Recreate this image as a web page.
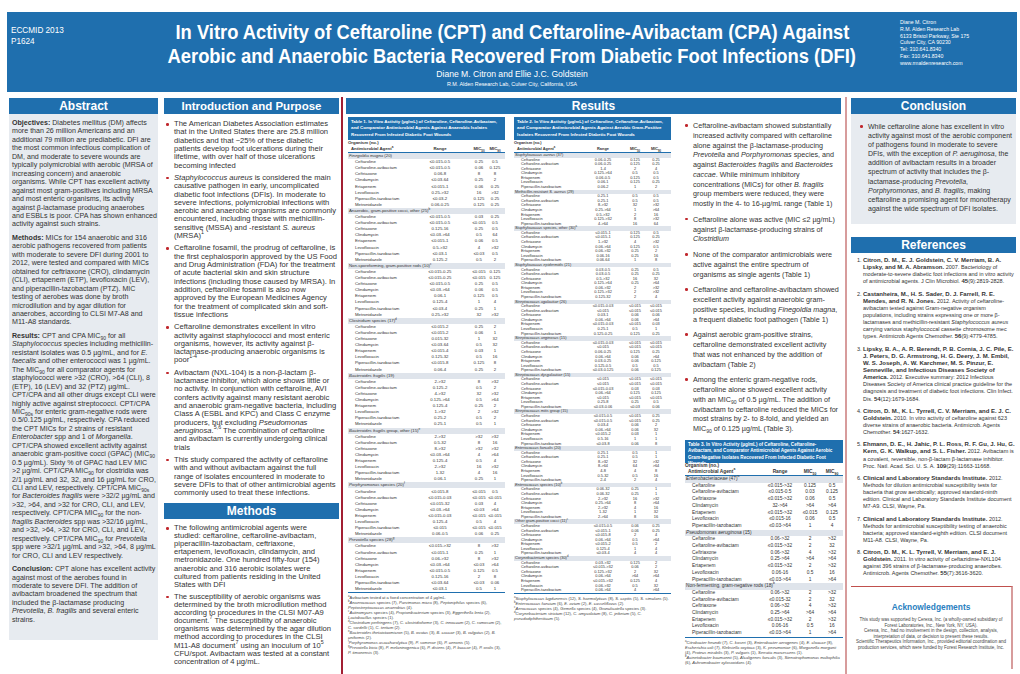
<!DOCTYPE html>
<html>
<head>
<meta charset="utf-8">
<script src="https://cdn.jsdelivr.net/npm/chart.js"></script>
<style>
  body { margin: 0; width: 1020px; height: 674px; background: #fff; position: relative; overflow: hidden;
         font-family: "Liberation Sans", Arial, sans-serif; color: #333; }
  .abs { position: absolute; }
  .band { left: 7px; top: 12px; width: 1010px; height: 80px; background: #1f6fae; color: #fff; }
  .hbar { background: #1f6fae; color: #fff; font-weight: bold; text-align: center; height: 16px; line-height: 16px; font-size: 12px; }
  .txt p { margin: 0 0 5px 0; }
  .bul { position: relative; padding-left: 9px; margin: 0 0 4px 0; }
  .bul::before { content: ""; position: absolute; left: 1px; top: 3px; width: 2.6px; height: 2.6px; background: #c0272d; border-radius: 50%; }
  .tbl { color: #333; }
  .tbl .ttl { background: #1f6fae; color: #fff; font-weight: bold; padding: 2px 3px; box-sizing: border-box; }
  .tbl .row { position: absolute; left: 0; right: 0; white-space: nowrap; }
  .tbl .grp { background: #dfe4eb; }
  .tbl .c { position: absolute; top: 0; text-align: center; }
  .notes { color: #444; }
  .refs li { margin-bottom: 5px; }
  .refs b { font-size: 6px; }
  sub, sup { font-size: 70%; line-height: 0; }
</style>
</head>
<body>

<div class="abs band">
  <div class="abs" style="left:4px;top:13px;font-size:8.2px;line-height:11px">ECCMID 2013<br>P1624</div>
  <div class="abs" style="left:0;width:1010px;top:8px;text-align:center;font-weight:bold;font-size:20px;line-height:24px">
    <span class="fit" data-w="674" style="display:inline-block;white-space:nowrap">In Vitro Activity of Ceftaroline (CPT) and Ceftaroline-Avibactam (CPA) Against</span><br>
    <span class="fit" data-w="688" style="display:inline-block;white-space:nowrap">Aerobic and Anaerobic Bacteria Recovered From Diabetic Foot Infections (DFI)</span>
  </div>
  <div class="abs" style="left:0;width:1010px;top:57px;text-align:center;font-size:8.6px">Diane M. Citron and Ellie J.C. Goldstein</div>
  <div class="abs" style="left:0;width:1010px;top:69px;text-align:center;font-size:5.4px">R.M. Alden Research Lab, Culver City, California, USA</div>
  <div class="abs" style="left:893px;top:7px;font-size:5.2px;line-height:6.8px">Diane M. Citron<br>R.M. Alden Research Lab<br>6133 Bristol Parkway, Ste 175<br>Culver City, CA 90230<br>Tel: 310.641.8340<br>Fax: 310.641.8340<br>www.rmaldenresearch.com</div>
</div>

<!-- Abstract -->
<div class="abs hbar" style="left:9px;top:98px;width:149px">Abstract</div>
<div class="abs" style="left:9px;top:114px;width:149px;height:526px;background:#e7ebf0"></div>
<div id="abstract" class="abs txt" style="left:12px;top:119px;width:145px;font-size:7.1px;line-height:8.6px">
  <p><b>Objectives:</b> Diabetes mellitus (DM) affects more than 26 million Americans and an additional 79 million are prediabetic. DFI are the most common infectious complication of DM, and moderate to severe wounds are typically polymicrobial with aerobic (MRSA of increasing concern) and anaerobic organisms. While CPT has excellent activity against most gram-positives including MRSA and most enteric organisms, its activity against β-lactamase producing anaerobes and ESBLs is poor. CPA has shown enhanced activity against such strains.</p>
  <p><b>Methods:</b> MICs for 154 anaerobic and 316 aerobic pathogens recovered from patients with moderate to severe DFI during 2001 to 2012, were tested and compared with MICs obtained for ceftriaxone (CRO), clindamycin (CLI), ertapenem (ETP), levofloxacin (LEV), and piperacillin-tazobactam (PTZ). MIC testing of aerobes was done by broth microdilution and by agar dilution for anaerobes, according to CLSI M7-A8 and M11-A8 standards.</p>
  <p><b>Results:</b> CPT and CPA MIC<sub>90</sub> for all <i>Staphylococcus</i> species including methicillin-resistant isolates was 0.5 µg/mL, and for <i>E. faecalis</i> and other enterococci was 1 µg/mL. The MIC<sub>90</sub> for all comparator agents for staphylococci were &gt;32 (CRO), &gt;64 (CLI), 8 (ETP), 16 (LEV) and 32 (PTZ) µg/mL. CPT/CPA and all other drugs except CLI were highly active against streptococci. CPT/CPA MIC<sub>90s</sub> for enteric gram-negative rods were 0.5/0.125 µg/mL, respectively. CPA reduced the CPT MICs for 2 strains of resistant <i>Enterobacter</i> spp and 1 of <i>Morganella</i>. CPT/CPA showed excellent activity against anaerobic gram-positive cocci (GPAC) (MIC<sub>90</sub> 0.5 µg/mL). Sixty % of GPAC had LEV MIC &gt;2 µg/ml. CPT/CPA MIC<sub>90</sub> for clostridia was 2/1 µg/mL and 32, 32, and 16 µg/mL for CRO, CLI and LEV, respectively. CPT/CPA MIC<sub>90s</sub> for <i>Bacteroides fragilis</i> were &gt;32/2 µg/mL and &gt;32, &gt;64, and &gt;32 for CRO, CLI, and LEV, respectively. CPT/CPA MIC<sub>90</sub> for the non-<i>fragilis Bacteroides</i> spp was &gt;32/16 µg/mL, and &gt;32, &gt;64, &gt;32 for CRO, CLI, and LEV, respectively. CPT/CPA MIC<sub>90</sub> for <i>Prevotella</i> spp were &gt;32/1 µg/mL and &gt;32, &gt;64, 8 µg/mL for CRO, CLI and LEV respectively.</p>
  <p style="margin:0"><b>Conclusion:</b> CPT alone has excellent activity against most of the aerobes found in moderate to severe DFI. The addition of avibactam broadened the spectrum that included the β-lactamase producing <i>Prevotella</i>, <i>B. fragilis</i> and several enteric strains.</p>
</div>

<!-- Introduction and Methods -->
<div class="abs hbar" style="left:164px;top:98px;width:175px;font-size:11.5px">Introduction and Purpose</div>
<div id="intro" class="abs txt" style="left:165px;top:120px;width:172px;font-size:7.6px;line-height:8.5px">
  <div class="bul">The American Diabetes Association estimates that in the United States there are 25.8 million diabetics and that ~25% of these diabetic patients develop foot ulcerations during their lifetime, with over half of those ulcerations becoming infected</div>
  <div class="bul"><i>Staphylococcus aureus</i> is considered the main causative pathogen in early, uncomplicated diabetic foot infections (DFIs). In moderate to severe infections, polymicrobial infections with aerobic and anaerobic organisms are commonly encountered, including those with methicillin-sensitive (MSSA) and -resistant <i>S. aureus</i> (MRSA)<sup>1</sup></div>
  <div class="bul">Ceftaroline fosamil, the prodrug of ceftaroline, is the first cephalosporin approved by the US Food and Drug Administration (FDA) for the treatment of acute bacterial skin and skin structure infections (including those caused by MRSA). In addition, ceftaroline fosamil is also now approved by the European Medicines Agency for the treatment of complicated skin and soft-tissue infections</div>
  <div class="bul">Ceftaroline demonstrates excellent in vitro activity against staphylococci and most enteric organisms, however, its activity against β-lactamase-producing anaerobic organisms is poor<sup>1-4</sup></div>
  <div class="bul">Avibactam (NXL-104) is a non-β-lactam β-lactamase inhibitor, which alone shows little or no activity. In conjunction with ceftaroline, AVI confers activity against many resistant aerobic and anaerobic gram-negative bacteria, including Class A (ESBL and KPC) and Class C enzyme producers, but excluding <i>Pseudomonas aeruginosa</i>.<sup>5,6</sup> The combination of ceftaroline and avibactam is currently undergoing clinical trials</div>
  <div class="bul" style="margin:0">This study compared the activity of ceftaroline with and without avibactam against the full range of isolates encountered in moderate to severe DFIs to that of other antimicrobial agents commonly used to treat these infections.</div>
</div>
<div id="methHead" class="abs hbar" style="left:164px;top:503px;width:175px">Methods</div>
<div id="methods" class="abs txt" style="left:165px;top:524px;width:170px;font-size:7.6px;line-height:8.5px">
  <div class="bul">The following antimicrobial agents were studied: ceftaroline, ceftaroline-avibactam, piperacillin-tazobactam, ceftriaxone, ertapenem, levofloxacin, clindamycin, and metronidazole. One hundred fifty-four (154) anaerobic and 316 aerobic isolates were cultured from patients residing in the United States with DFI</div>
  <div class="bul" style="margin:0">The susceptibility of aerobic organisms was determined by the broth microdilution method according to procedures in the CLSI M07-A9 document.<sup>7</sup> The susceptibility of anaerobic organisms was determined by the agar dilution method according to procedures in the CLSI M11-A8 document<sup>7</sup> using an inoculum of 10<sup>5</sup> CFU/spot. Avibactam was tested at a constant concentration of 4 µg/mL.</div>
</div>

<div class="abs" style="left:341px;top:97px;width:1.6px;height:577px;background:#a21f33"></div>
<div class="abs" style="left:845px;top:97px;width:2px;height:577px;background:#d79c9c"></div>

<!-- Results -->
<div class="abs hbar" style="left:346px;top:98px;width:495px">Results</div>
<div id="t1" class="abs tbl" style="left:348px;top:117px;width:157px"></div>
<div id="t2" class="abs tbl" style="left:514px;top:117px;width:157px"></div>
<div id="t3" class="abs tbl" style="left:685px;top:440px;width:158px"></div>

<div id="results" class="abs txt" style="left:684px;top:121px;width:156px;font-size:7.2px;line-height:9.4px">
  <div class="bul" style="margin-bottom:6px">Ceftaroline-avibactam showed substantially increased activity compared with ceftaroline alone against the β-lactamase-producing <i>Prevotella</i> and <i>Porphyromonas</i> species, and against <i>Bacteroides fragilis</i> and <i>Bacteroides caccae</i>. While minimum inhibitory concentrations (MICs) for other <i>B. fragilis</i> group members were reduced, they were mostly in the 4- to 16-µg/mL range (Table 1)</div>
  <div class="bul" style="margin-bottom:6px">Ceftaroline alone was active (MIC ≤2 µg/mL) against β-lactamase-producing strains of <i>Clostridium</i></div>
  <div class="bul" style="margin-bottom:6px">None of the comparator antimicrobials were active against the entire spectrum of organisms as single agents (Table 1)</div>
  <div class="bul" style="margin-bottom:6px">Ceftaroline and ceftaroline-avibactam showed excellent activity against anaerobic gram-positive species, including <i>Finegoldia magna</i>, a frequent diabetic foot pathogen (Table 1)</div>
  <div class="bul" style="margin-bottom:6px">Against aerobic gram-positive strains, ceftaroline demonstrated excellent activity that was not enhanced by the addition of avibactam (Table 2)</div>
  <div class="bul" style="margin:0">Among the enteric gram-negative rods, ceftaroline alone showed excellent activity with an MIC<sub>90</sub> of 0.5 µg/mL. The addition of avibactam to ceftaroline reduced the MICs for most strains by 2- to 8-fold, and yielded an MIC<sub>90</sub> of 0.125 µg/mL (Table 3).</div>
</div>

<!-- Conclusion -->
<div class="abs hbar" style="left:851px;top:98px;width:165px">Conclusion</div>
<div class="abs" style="left:851px;top:114px;width:165px;height:110px;background:#e7ebf0"></div>
<div id="concl" class="abs txt" style="left:859px;top:122px;width:155px;font-size:7px;line-height:8.8px">
  <div class="bul" style="margin:0">While ceftaroline alone has excellent in vitro activity against most of the aerobic component of pathogens found in moderate to severe DFIs, with the exception of <i>P. aeruginosa</i>, the addition of avibactam results in a broader spectrum of activity that includes the β-lactamase-producing <i>Prevotella</i>, <i>Porphyromonas</i>, and <i>B. fragilis</i>, making ceftaroline a promising agent for monotherapy against the wide spectrum of DFI isolates.</div>
</div>

<div class="abs hbar" style="left:851px;top:237px;width:165px">References</div>
<ol id="refs" class="abs refs" style="left:851px;top:257px;width:164px;margin:0;padding:0 0 0 12px;font-size:5.5px;line-height:7.2px;box-sizing:border-box">
  <li><b>Citron, D. M., E. J. Goldstein, C. V. Merriam, B. A. Lipsky, and M. A. Abramson.</b> 2007. Bacteriology of moderate-to-severe diabetic foot infections and in vitro activity of antimicrobial agents. J Clin Microbiol. <b>45</b>(9):2819-2828.</li>
  <li><b>Castanheira, M., H. S. Sader, D. J. Farrell, R. E. Mendes, and R. N. Jones.</b> 2012. Activity of ceftaroline-avibactam tested against Gram-negative organism populations, including strains expressing one or more β-lactamases and methicillin-resistant <i>Staphylococcus aureus</i> carrying various staphylococcal cassette chromosome mec types. Antimicrob Agents Chemother. <b>56</b>(9):4779-4785.</li>
  <li><b>Lipsky, B. A., A. R. Berendt, P. B. Cornia, J. C. Pile, E. J. Peters, D. G. Armstrong, H. G. Deery, J. M. Embil, W. S. Joseph, A. W. Karchmer, M. S. Pinzur, E. Senneville, and Infectious Diseases Society of America.</b> 2012. Executive summary: 2012 Infectious Diseases Society of America clinical practice guideline for the diagnosis and treatment of diabetic foot infections. Clin Infect. Dis. <b>54</b>(12):1679-1684.</li>
  <li><b>Citron, D. M., K. L. Tyrrell, C. V. Merriam, and E. J. C. Goldstein.</b> 2010. In vitro activity of ceftaroline against 623 diverse strains of anaerobic bacteria. Antimicrob. Agents Chemother. <b>54</b>:1627-1632.</li>
  <li><b>Ehmann, D. E., H. Jahic, P. L. Ross, R. F. Gu, J. Hu, G. Kern, G. K. Walkup, and S. L. Fisher.</b> 2012. Avibactam is a covalent, reversible, non-β-lactam β-lactamase inhibitor. Proc. Natl. Acad. Sci. U. S. A. <b>109</b>(29):11663-11668.</li>
  <li><b>Clinical and Laboratory Standards Institute.</b> 2012. Methods for dilution antimicrobial susceptibility tests for bacteria that grow aerobically; approved standard-ninth edition. Clinical and Laboratory Standards Institute document M7-A9. CLSI, Wayne, Pa.</li>
  <li><b>Clinical and Laboratory Standards Institute.</b> 2012. Methods for antimicrobial susceptibility testing of anaerobic bacteria; approved standard-eighth edition. CLSI document M11-A8. CLSI, Wayne, Pa.</li>
  <li style="margin:0"><b>Citron, D. M., K. L. Tyrrell, V. Merriam, and E. J. Goldstein.</b> 2011. In vitro activity of ceftazidime-NXL104 against 396 strains of β-lactamase-producing anaerobes. Antimicrob. Agents Chemother. <b>55</b>(7):3616-3620.</li>
</ol>

<div class="abs" style="left:851px;top:586px;width:160px;height:82px;border-top:1.5px solid #c0504d;border-right:2px solid #d79c9c;text-align:center;color:#444">
  <div style="color:#2a7fc0;font-weight:bold;font-size:8.4px;margin-top:15px">Acknowledgements</div>
  <div style="font-size:4.5px;line-height:5.6px;margin:5px 4px 0">This study was supported by Cerexa, Inc. (a wholly-owned subsidiary of Forest Laboratories, Inc., New York, NY, USA).<br>Cerexa, Inc., had no involvement in the design, collection, analysis, interpretation of data, or decision to present these results.<br>Scientific Therapeutics Information, Inc., provided editorial coordination and production services, which were funded by Forest Research Institute, Inc.</div>
</div>

<script>
// drugs
const anaerobeDrugs = ['Ceftaroline', 'Ceftaroline-avibactam', 'Ceftriaxone', 'Clindamycin', 'Ertapenem', 'Levofloxacin', 'Piperacillin-tazobactam', 'Metronidazole'];
const aerobeDrugs = ['Ceftaroline', 'Ceftaroline-avibactam', 'Ceftriaxone', 'Clindamycin', 'Ertapenem', 'Levofloxacin', 'Piperacillin-tazobactam'];

// Table 1 - anaerobes
const t1Groups = ['<i>Finegoldia magna</i> (20)', 'Anaerobic, gram-positive cocci, other (25)<sup>b</sup>', 'Non-sporeforming, gram-positive rods (10)<sup>c</sup>',
  '<i>Clostridium</i> species (17)<sup>d</sup>', '<i>Bacteroides fragilis</i> (19)', '<i>Bacteroides fragilis</i> group, other (15)<sup>e</sup>',
  '<i>Porphyromonas</i> species (20)<sup>f</sup>', '<i>Prevotella</i> species (28)<sup>g</sup>'];
const t1Range = [
  ['≤0.015-0.5', '≤0.015-0.5', '0.06-8', '≤0.03-64', '≤0.015-1', '0.25->32', '≤0.03-2', '0.06-0.25'],
  ['≤0.015-0.5', '≤0.015-0.5', '0.125-16', '≤0.03->64', '≤0.015-1', '0.5->32', '≤0.03-1', '0.125-2'],
  ['≤0.015-0.25', '≤0.015-0.25', '≤0.015-0.5', '≤0.03->64', '0.06-1', '0.125-4', '≤0.03-4', '0.25->32'],
  ['≤0.015-2', '≤0.015-2', '0.015-32', '≤0.03-64', '≤0.015-4', '0.125-32', '≤0.015-8', '0.06-4'],
  ['2->32', '0.125-2', '4->32', '0.125->64', '0.125-4', '1->32', '0.25-2', '0.25-1'],
  ['2->32', '0.5-32', '8->32', '≤0.03->64', '0.125-4', '2->32', '1-32', '0.06-1'],
  ['≤0.015-8', '≤0.015-0.03', '≤0.015-32', '≤0.03->64', '≤0.015-0.03', '0.125-4', '≤0.015', '0.06-0.5'],
  ['≤0.015->32', '≤0.015-1', '0.06->32', '≤0.03->64', '≤0.015-0.5', '0.125-16', '≤0.03-64', '≤0.03-1']
];
const t1Mic50 = [
  ['0.25', '0.06', '8', '0.25', '0.06', '16', '0.125', '0.125'],
  ['0.03', '≤0.015', '0.25', '0.5', '0.06', '4', '≤0.03', '0.5'],
  ['≤0.015', '≤0.015', '0.25', '0.06', '0.125', '1', '0.25', '32'],
  ['0.25', '0.06', '1', '0.5', '0.03', '0.5', '0.125', '0.25'],
  ['8', '0.5', '32', '0.5', '0.25', '2', '0.5', '0.5'],
  ['>32', '8', '>32', '4', '0.5', '16', '4', '0.25'],
  ['≤0.015', '≤0.015', '0.03', '≤0.03', '≤0.015', '0.5', '≤0.015', '0.06'],
  ['8', '0.25', '8', '≤0.03', '0.125', '2', '≤0.03', '0.5']
];
const t1Mic90 = [
  ['0.5', '0.125', '8', '2', '0.25', '>32', '0.25', '0.25'],
  ['0.25', '0.5', '0.5', '64', '0.5', '>32', '0.5', '2'],
  ['0.125', '0.125', '0.5', '0.5', '0.5', '4', '1', '>32'],
  ['2', '1', '32', '32', '1', '16', '8', '2'],
  ['>32', '2', '>32', '>64', '2', '>32', '2', '1'],
  ['>32', '16', '>32', '>64', '4', '>32', '16', '1'],
  ['0.5', '≤0.015', '4', '>64', '≤0.015', '4', '≤0.015', '0.25'],
  ['>32', '1', '>32', '>64', '0.5', '8', '0.06', '1']
];
const t1Notes = [
  '<sup>a</sup>Avibactam tested at a fixed concentration of 4 µg/mL.',
  '<sup>b</sup><i>Anaerococcus</i> species (7), <i>Parvimonas micra</i> (8), <i>Peptoniphilus</i> species (6), <i>Peptostreptococcus anaerobius</i> (4).',
  '<sup>c</sup><i>Actinomyces</i> species (4), <i>Propionibacterium</i> species (3), <i>Eggerthella lenta</i> (2), <i>Lactobacillus</i> species (1).',
  '<sup>d</sup><i>Clostridium perfringens</i> (7), <i>C. clostridioforme</i> (3), <i>C. innocuum</i> (2), <i>C. ramosum</i> (2), <i>C. sordellii</i> (1), <i>C. tertium</i> (2).',
  '<sup>e</sup><i>Bacteroides thetaiotaomicron</i> (5), <i>B. ovatus</i> (3), <i>B. caccae</i> (3), <i>B. vulgatus</i> (2), <i>B. uniformis</i> (2).',
  '<sup>f</sup><i>Porphyromonas asaccharolytica</i> (9), <i>P. somerae</i> (6), <i>P. uenonis</i> (5).',
  '<sup>g</sup><i>Prevotella bivia</i> (8), <i>P. melaninogenica</i> (6), <i>P. disiens</i> (4), <i>P. buccae</i> (4), <i>P. oralis</i> (3), <i>P. timonensis</i> (3).'
];

// Table 2 - aerobic gram-positive
const t2Groups = ['<i>Staphylococcus aureus</i> (37)', 'Methicillin-resistant <i>S. aureus</i> (29)', '<i>Staphylococcus</i> species, other (30)<sup>a</sup>',
  '<i>Staphylococcus epidermidis</i> (21)', '<i>Streptococcus agalactiae</i> (26)', '<i>Streptococcus anginosus</i> (15)', '<i>Streptococcus dysgalactiae</i> (15)',
  '<i>Streptococcus mitis</i> group (15)', '<i>Enterococcus faecalis</i> (20)', '<i>Enterococcus</i> species (10)<sup>b</sup>',
  'Other gram-positive cocci (11)<sup>c</sup>', '<i>Corynebacterium</i> species (30)<sup>d</sup>'];
const t2Range = [
  ['0.06-0.25', '0.06-0.25', '1-4', '0.125->64', '0.06-0.5', '0.06-1', '0.06-2'],
  ['0.25-1', '0.25-1', '8->32', '0.25->64', '0.5->32', '0.125->32', '4->64'],
  ['≤0.015-1', '≤0.015-1', '1->32', '0.06->64', '0.06->32', '0.06-16', '0.06-64'],
  ['0.03-0.5', '0.03-0.5', '0.5->32', '0.125->64', '0.06->32', '0.125->32', '0.125-32'],
  ['≤0.015-0.03', '≤0.015', '0.03-1', '0.06->64', '≤0.015-0.03', '0.25-1', '0.125-0.25'],
  ['≤0.015-0.03', '≤0.015', '0.06-0.25', '0.06->64', '0.03-0.25', '0.125-0.5', '≤0.03-0.125'],
  ['≤0.015', '≤0.015', '≤0.015-0.03', '0.06->64', '≤0.015', '0.25-8', '≤0.03-0.06'],
  ['≤0.015-0.5', '≤0.015-0.5', '0.03-4', '0.06->64', '≤0.015-2', '0.5-16', '≤0.03-8'],
  ['0.25-1', '0.25-1', '8->32', '8->64', '4-8', '0.5-32', '2-4'],
  ['0.06-32', '0.06-32', '2->32', '0.25->64', '2->32', '1-32', '2->64'],
  ['≤0.015-0.5', '≤0.015-1', '≤0.015-8', '0.06->64', '≤0.015-2', '0.125-4', '≤0.03-4'],
  ['0.03->32', '≤0.015->32', '0.125->32', '0.06->64', '≤0.015->32', '0.06->32', '0.06->64']
];
const t2Mic50 = [
  ['0.125', '0.125', '2', '0.5', '0.125', '0.125', '1'],
  ['0.5', '0.5', '32', '1', '2', '8', '16'],
  ['0.125', '0.125', '4', '0.125', '0.25', '0.25', '1'],
  ['0.25', '0.25', '16', '0.25', '2', '2', '2'],
  ['≤0.015', '≤0.015', '0.06', '0.06', '≤0.015', '0.5', '0.125'],
  ['≤0.015', '≤0.015', '0.125', '0.06', '0.06', '0.5', '0.06'],
  ['≤0.015', '≤0.015', '0.03', '0.125', '≤0.015', '0.25', '≤0.03'],
  ['≤0.015', '≤0.015', '0.06', '0.06', '0.03', '1', '0.06'],
  ['0.5', '0.5', '32', '64', '4', '0.5', '2'],
  ['0.25', '0.25', '16', '8', '4', '1', '8'],
  ['0.06', '0.06', '2', '0.5', '0.5', '1', '4'],
  ['0.125', '0.06', '2', '>64', '0.125', '0.5', '4']
];
const t2Mic90 = [
  ['0.25', '0.25', '4', '0.5', '0.5', '0.25', '2'],
  ['0.5', '0.5', '>32', '>64', '16', '>32', '64'],
  ['0.5', '0.25', '>32', '0.5', '2', '16', '8'],
  ['0.5', '0.25', '32', '>64', '>32', '>32', '4'],
  ['≤0.015', '≤0.015', '0.06', '>64', '0.03', '1', '0.25'],
  ['≤0.015', '≤0.015', '0.25', '>64', '0.125', '0.5', '0.125'],
  ['≤0.015', '≤0.015', '0.03', '0.125', '≤0.015', '0.5', '0.06'],
  ['0.25', '0.25', '2', '32', '1', '1', '8'],
  ['1', '1', '>32', '>64', '8', '16', '4'],
  ['1', '1', '>32', '>64', '16', '32', '16'],
  ['0.25', '0.25', '4', '>64', '2', '4', '4'],
  ['2', '2', '32', '>64', '4', '32', '>64']
];
const t2Notes = [
  '<sup>a</sup><i>Staphylococcus lugdunensis</i> (12), <i>S. haemolyticus</i> (8), <i>S. capitis</i> (5), <i>S. simulans</i> (5).',
  '<sup>b</sup><i>Enterococcus faecium</i> (6), <i>E. avium</i> (2), <i>E. casseliflavus</i> (2).',
  '<sup>c</sup><i>Aerococcus</i> species (4), <i>Gemella</i> species (4), <i>Granulicatella</i> species (3).',
  '<sup>d</sup><i>Corynebacterium striatum</i> (12), <i>C. amycolatum</i> (8), <i>C. jeikeium</i> (5), <i>C. pseudodiphtheriticum</i> (5).'
];

// Table 3 - aerobic gram-negative
const t3Groups = ['<i>Enterobacteriaceae</i> (47)<sup>a</sup>', '<i>Pseudomonas aeruginosa</i> (15)', 'Non-fermenting, gram-negative rods (18)<sup>b</sup>'];
const t3Range = [
  ['≤0.015->32', '≤0.015-0.5', '≤0.015->32', '32->64', '≤0.015->32', '≤0.015-16', '≤0.03->64'],
  ['0.06->32', '≤0.015->32', '0.06->32', '0.25->64', '≤0.015->32', '0.06-16', '≤0.03->64'],
  ['0.06->32', '≤0.015-32', '0.06->32', '0.25->64', '≤0.015->32', '0.06-16', '≤0.03->64']
];
const t3Mic50 = [
  ['0.125', '0.03', '0.06', '>64', '≤0.015', '0.06', '1'],
  ['2', '2', '4', '>64', '2', '0.5', '1'],
  ['2', '2', '4', '>64', '2', '0.5', '1']
];
const t3Mic90 = [
  ['0.5', '0.125', '0.5', '>64', '0.125', '0.5', '4'],
  ['>32', '32', '>32', '>64', '>32', '16', '>64'],
  ['>32', '32', '>32', '>64', '>32', '16', '>64']
];
const t3Notes = [
  '<sup>a</sup><i>Citrobacter freundii</i> (7), <i>C. koseri</i> (3), <i>Enterobacter aerogenes</i> (4), <i>E. cloacae</i> (8), <i>Escherichia coli</i> (7), <i>Klebsiella oxytoca</i> (3), <i>K. pneumoniae</i> (6), <i>Morganella morganii</i> (4), <i>Proteus mirabilis</i> (3), <i>P. vulgaris</i> (1), <i>Serratia marcescens</i> (1).',
  '<sup>b</sup><i>Acinetobacter baumannii</i> (5), <i>Alcaligenes faecalis</i> (3), <i>Stenotrophomonas maltophilia</i> (6), <i>Achromobacter xylosoxidans</i> (4).'
];

function buildTable(id, cfg) {
  const host = document.getElementById(id);
  host.style.fontSize = cfg.font + 'px';
  let html = `<div class="ttl" style="height:${cfg.titleH}px;font-size:${cfg.titleFont}px;line-height:${(cfg.titleH - 4) / 3}px">${cfg.title}</div>`;
  const [rx, m5, m9] = cfg.cols;
  html += `<div style="position:relative;height:${cfg.headH}px;border-bottom:0.8px solid #1f6fae;font-weight:bold;line-height:${cfg.headH / 2}px">
    <div>Organism (no.)</div><div style="padding-left:3px">Antimicrobial Agent<sup>a</sup></div>
    <div class="c" style="top:${cfg.headH / 2}px;left:${rx - 15}px;width:30px">Range</div>
    <div class="c" style="top:${cfg.headH / 2}px;left:${m5 - 10}px;width:20px">MIC<sub>50</sub></div>
    <div class="c" style="top:${cfg.headH / 2}px;left:${m9 - 10}px;width:20px">MIC<sub>90</sub></div></div>`;
  let y = 0;
  let rows = '';
  cfg.groups.forEach((g, gi) => {
    rows += `<div class="row grp" style="top:${y}px;height:${cfg.rowH}px;line-height:${cfg.rowH}px;padding-left:1px">${g}</div>`;
    y += cfg.rowH;
    cfg.drugs.forEach((d, di) => {
      rows += `<div class="row" style="top:${y}px;height:${cfg.rowH}px;line-height:${cfg.rowH}px;padding-left:7px">${d}
        <span class="c" style="left:${rx - 16}px;width:32px">${cfg.range[gi][di]}</span>
        <span class="c" style="left:${m5 - 10}px;width:20px">${cfg.mic50[gi][di]}</span>
        <span class="c" style="left:${m9 - 10}px;width:20px">${cfg.mic90[gi][di]}</span></div>`;
      y += cfg.rowH;
    });
  });
  html += `<div style="position:relative;height:${y}px;border-bottom:1.4px solid #1f6fae">${rows}</div>`;
  html += `<div class="notes" style="margin-top:2px;font-size:${cfg.noteFont}px;line-height:${cfg.noteFont * 1.22}px">${cfg.notes.join('<br>')}</div>`;
  host.innerHTML = html;
}

buildTable('t1', {
  title: 'Table 1. In Vitro Activity (µg/mL) of Ceftaroline, Ceftaroline-Avibactam, and Comparator Antimicrobial Agents Against Anaerobic Isolates Recovered From Infected Diabetic Foot Wounds',
  groups: t1Groups, drugs: anaerobeDrugs, range: t1Range, mic50: t1Mic50, mic90: t1Mic90, notes: t1Notes,
  font: 4.3, titleFont: 4.4, noteFont: 4.1, titleH: 23, headH: 12, rowH: 6.1, cols: [92, 131, 147]
});
buildTable('t2', {
  title: 'Table 2. In Vitro Activity (µg/mL) of Ceftaroline, Ceftaroline-Avibactam, and Comparator Antimicrobial Agents Against Aerobic Gram-Positive Isolates Recovered From Infected Diabetic Foot Wounds',
  groups: t2Groups, drugs: aerobeDrugs, range: t2Range, mic50: t2Mic50, mic90: t2Mic90, notes: t2Notes,
  font: 3.9, titleFont: 4.4, noteFont: 4.1, titleH: 23, headH: 12, rowH: 4.58, cols: [89, 121, 142]
});
buildTable('t3', {
  title: 'Table 3. In Vitro Activity (µg/mL) of Ceftaroline, Ceftaroline-Avibactam, and Comparator Antimicrobial Agents Against Aerobic Gram-Negative Isolates Recovered From Infected Diabetic Foot Wounds',
  groups: t3Groups, drugs: aerobeDrugs, range: t3Range, mic50: t3Mic50, mic90: t3Mic90, notes: t3Notes,
  font: 4.8, titleFont: 4.6, noteFont: 4.1, titleH: 23, headH: 12, rowH: 6.7, cols: [95, 125, 147]
});

// squeeze title lines to the poster width
document.querySelectorAll('.fit').forEach((el) => {
  const s = Number(el.dataset.w) / el.scrollWidth;
  el.style.transform = `scaleX(${s})`;
});

// stretch the leading of a text block so its last line ends where the poster's does
function fitLeading(id, bottom) {
  const el = document.getElementById(id);
  let lo = 6, hi = 13;
  for (let i = 0; i < 24; i++) {
    const mid = (lo + hi) / 2;
    el.style.lineHeight = mid + 'px';
    if (el.getBoundingClientRect().bottom > bottom) hi = mid; else lo = mid;
  }
  el.style.lineHeight = lo + 'px';
}
fitLeading('abstract', 625);
fitLeading('intro', 498);
fitLeading('methods', 666);
fitLeading('results', 434);
fitLeading('concl', 213);
fitLeading('refs', 578);
</script>
</body>
</html>
